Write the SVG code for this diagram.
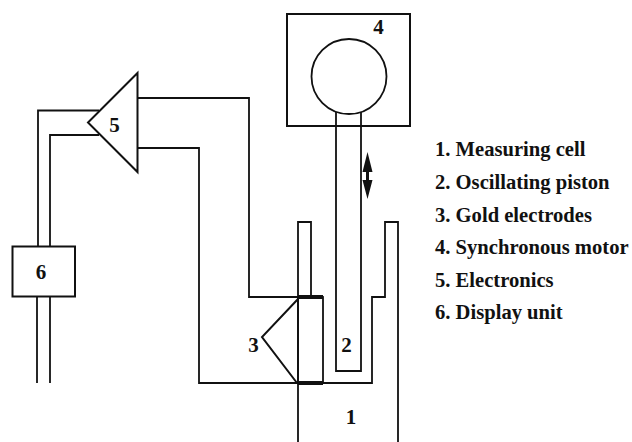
<svg xmlns="http://www.w3.org/2000/svg" width="632" height="442" viewBox="0 0 632 442">
<style>
.l{fill:none;stroke:#111;stroke-width:1.8;stroke-linejoin:miter}
.b{fill:none;stroke:#111;stroke-width:2}
.h{fill:none;stroke:#111;stroke-width:4}
text{font-family:"Liberation Serif","Times New Roman",serif;font-weight:bold;fill:#111}
.n{font-size:21px;text-anchor:middle}
.k{font-size:20.600px}
</style>
<rect width="632" height="442" fill="#fff"/>
<g id="connectors">
<path class="l" d="M137 98H249V297H298"/>
<path class="l" d="M137 148H199V383H298"/>
<path class="l" d="M99 110.500H38V247"/>
<path class="l" d="M99 135H50V247"/>
<path class="l" d="M37 297V383"/>
<path class="l" d="M50 297V383"/>
</g>
<g id="node-1">
<path class="l" d="M298 442V222H311V297"/>
<path class="l" d="M323 383H372V297H385V222H398V442"/>
<text class="n" x="351" y="424">1</text>
</g>
<g id="node-2">
<path class="l" d="M336 112V371H361V112"/>
<text class="n" x="346.500" y="352">2</text>
<path d="M367.500 152L372.500 172H369V180H372.500L367.500 199L362.500 180H366V172H362.500Z" fill="#111"/>
</g>
<g id="node-3">
<rect class="l" x="298" y="297" width="25" height="86"/>
<path class="h" d="M298 297H323M298 383H323"/>
<path class="b" d="M298 299L262 337L297 383"/>
<text class="n" x="253.500" y="352">3</text>
</g>
<g id="node-4">
<rect class="b" x="287" y="14" width="123" height="112"/>
<circle class="l" cx="349" cy="76.500" r="37.500"/>
<text class="n" x="378.500" y="34">4</text>
</g>
<g id="node-5">
<path class="b" d="M137.500 73V172L88 122.500Z"/>
<text class="n" x="114.500" y="132">5</text>
</g>
<g id="node-6">
<rect class="b" x="12.500" y="246.500" width="62.500" height="50"/>
<text class="n" x="41" y="279">6</text>
</g>
<g id="legend">
<text class="k" x="435" y="156">1. Measuring cell</text>
<text class="k" x="435" y="189">2. Oscillating piston</text>
<text class="k" x="435" y="221.500">3. Gold electrodes</text>
<text class="k" x="435" y="254">4. Synchronous motor</text>
<text class="k" x="435" y="287">5. Electronics</text>
<text class="k" x="435" y="319">6. Display unit</text>
</g>
</svg>
